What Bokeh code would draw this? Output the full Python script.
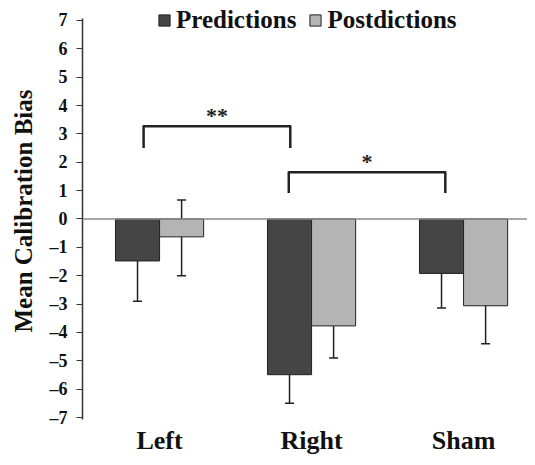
from bokeh.plotting import figure
from bokeh.models import ColumnDataSource, Whisker, Span, FixedTicker, Legend, LegendItem, TeeHead
from bokeh.core.properties import value
from bokeh.embed import file_html
from bokeh.resources import INLINE

categories = ["Left", "Right", "Sham"]
pred_mean = [-1.48, -5.49, -1.92]
pred_upper = [-0.10, -4.50, -0.70]
pred_lower = [-2.90, -6.50, -3.14]
post_mean = [-0.63, -3.77, -3.06]
post_upper = [0.67, -2.60, -1.76]
post_lower = [-2.00, -4.90, -4.40]
y_ticks = [-7, -6, -5, -4, -3, -2, -1, 0, 1, 2, 3, 4, 5, 6, 7]

# significance brackets: (x start, x end, bar height, leg bottom, label)
bracket_x0 = [-0.105, 0.85]
bracket_x1 = [0.86, 1.88]
bracket_top = [3.27, 1.65]
bracket_bottom = [2.50, 0.92]
bracket_labels = ["**", "*"]

FONT = "Liberation Serif"
DARK = "#454545"
LIGHT = "#b4b4b4"
EDGE = "#222222"

xs = list(range(len(categories)))
off = 0.145
bw = 0.29

p = figure(width=527, height=457, output_backend="svg", toolbar_location=None,
           x_range=(-0.507, -0.507 + 445 / 152), y_range=(-7.07, -7.07 + 418 / 28.43),
           min_border_left=82, min_border_right=0, min_border_top=2, min_border_bottom=37)
p.outline_line_color = None
p.xgrid.visible = False
p.ygrid.visible = False

pred_src = ColumnDataSource(dict(x=[x - off for x in xs], top=[0] * 3, bottom=pred_mean,
                                 upper=pred_upper, lower=pred_lower))
post_src = ColumnDataSource(dict(x=[x + off for x in xs], top=[0] * 3, bottom=post_mean,
                                 upper=post_upper, lower=post_lower))

r1 = p.vbar(x="x", top="top", bottom="bottom", width=bw, source=pred_src,
            fill_color=DARK, line_color=EDGE, line_width=1)
r2 = p.vbar(x="x", top="top", bottom="bottom", width=bw, source=post_src,
            fill_color=LIGHT, line_color=EDGE, line_width=1)

p.add_layout(Span(location=0, dimension="width", line_color="#8a8a8a", line_width=1.5))

for src in (pred_src, post_src):
    w = Whisker(base="x", upper="upper", lower="lower", source=src,
                line_color=EDGE, line_width=1.5,
                upper_head=TeeHead(size=9, line_color=EDGE, line_width=1.5),
                lower_head=TeeHead(size=9, line_color=EDGE, line_width=1.5))
    p.add_layout(w)

bx = [[a, a, b, b] for a, b in zip(bracket_x0, bracket_x1)]
by = [[lo, hi, hi, lo] for lo, hi in zip(bracket_bottom, bracket_top)]
p.multi_line(xs=bx, ys=by, line_color=EDGE, line_width=2.5, line_join="round")
p.text(x=[(a + b) / 2 for a, b in zip(bracket_x0, bracket_x1)],
       y=[t + 0.38 for t in bracket_top], text=bracket_labels,
       text_font=value(FONT), text_font_style="bold", text_font_size="22px",
       text_align="center", text_baseline="alphabetic", text_color=EDGE)

# axes
p.yaxis.ticker = FixedTicker(ticks=y_ticks)
p.yaxis.bounds = (-7.07, 7.07)
p.yaxis.major_label_overrides = {t: (("\u2013" + str(-t)) if t < 0 else str(t)) for t in y_ticks}
p.yaxis.axis_label = "Mean Calibration Bias"
p.yaxis.axis_label_text_font = FONT
p.yaxis.axis_label_text_font_style = "bold"
p.yaxis.axis_label_text_font_size = "25px"
p.yaxis.axis_label_text_color = "#111111"
p.yaxis.axis_label_standoff = 10
p.yaxis.major_label_text_font = FONT
p.yaxis.major_label_text_font_style = "bold"
p.yaxis.major_label_text_font_size = "18px"
p.yaxis.major_label_text_color = "#111111"
p.yaxis.major_label_standoff = 9
p.yaxis.major_tick_out = 6
p.yaxis.major_tick_in = 0
p.yaxis.minor_tick_out = 0
p.yaxis.minor_tick_in = 0
p.yaxis.axis_line_color = "#333333"
p.yaxis.major_tick_line_color = "#333333"
p.yaxis.axis_line_width = 1.5

p.xaxis.ticker = FixedTicker(ticks=xs)
p.xaxis.major_label_overrides = {i: c for i, c in enumerate(categories)}
p.xaxis.axis_line_color = None
p.xaxis.major_tick_line_color = None
p.xaxis.minor_tick_line_color = None
p.xaxis.major_tick_out = 0
p.xaxis.major_label_standoff = 6
p.xaxis.major_label_text_font = FONT
p.xaxis.major_label_text_font_style = "bold"
p.xaxis.major_label_text_font_size = "26px"
p.xaxis.major_label_text_color = "#111111"

legend = Legend(items=[LegendItem(label="Predictions", renderers=[r1]),
                       LegendItem(label="Postdictions", renderers=[r2])],
                orientation="horizontal", location=(75, 384),
                background_fill_alpha=0, border_line_color=None,
                padding=0, margin=0, spacing=12, label_standoff=5,
                glyph_width=14, glyph_height=14, label_height=30,
                label_text_font=FONT, label_text_font_style="bold",
                label_text_font_size="25px", label_text_color="#111111")
p.add_layout(legend)

open("out.html", "w").write(file_html(p, INLINE))
